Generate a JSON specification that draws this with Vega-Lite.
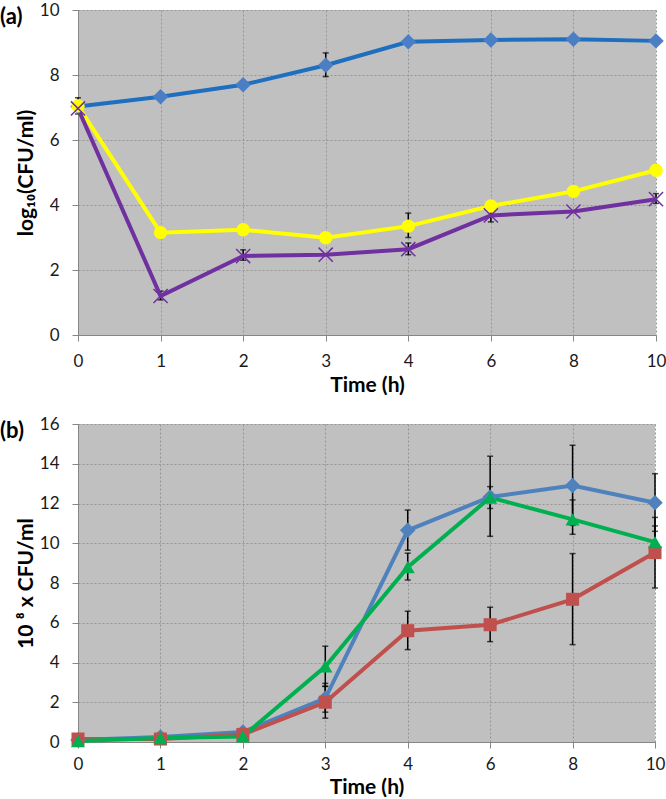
{
  "$schema": "https://vega.github.io/schema/vega-lite/v6.json",
  "padding": {"top": 1, "left": 0, "right": 0, "bottom": 0},
  "background": "white",
  "spacing": 20,
  "resolve": {"scale": {"color": "independent"}},
  "config": {
    "font": "Lato",
    "view": {"fill": "#C0C0C0", "stroke": null},
    "axis": {
      "labelFont": "Lato", "labelFontSize": 17, "labelColor": "#1a1a1a",
      "titleFont": "Lato", "titleFontSize": 21, "titleFontWeight": "bold", "titleColor": "#000000",
      "domainColor": "#868686", "tickColor": "#868686", "tickSize": 6,
      "gridColor": "#959595", "gridDash": [2, 2], "gridWidth": 1
    },
    "axisX": {"labelPadding": 12, "titlePadding": 5, "labelAngle": 0},
    "axisY": {"labelPadding": 13, "titlePadding": 3},
    "title": {"font": "Lato", "fontSize": 22, "fontWeight": "bold", "color": "#000000", "anchor": "start", "frame": "group", "baseline": "top", "offset": -28, "dx": -78}
  },
  "datasets": {
    "a": [
      {"t": 0, "s": "s1", "v": 7.03}, {"t": 1, "s": "s1", "v": 7.33}, {"t": 2, "s": "s1", "v": 7.70}, {"t": 3, "s": "s1", "v": 8.30},
      {"t": 4, "s": "s1", "v": 9.02}, {"t": 6, "s": "s1", "v": 9.08}, {"t": 8, "s": "s1", "v": 9.10}, {"t": 10, "s": "s1", "v": 9.05},
      {"t": 0, "s": "s2", "v": 7.05}, {"t": 1, "s": "s2", "v": 3.15}, {"t": 2, "s": "s2", "v": 3.24}, {"t": 3, "s": "s2", "v": 2.99},
      {"t": 4, "s": "s2", "v": 3.35}, {"t": 6, "s": "s2", "v": 3.97}, {"t": 8, "s": "s2", "v": 4.42}, {"t": 10, "s": "s2", "v": 5.07},
      {"t": 0, "s": "s3", "v": 6.97}, {"t": 1, "s": "s3", "v": 1.20}, {"t": 2, "s": "s3", "v": 2.43}, {"t": 3, "s": "s3", "v": 2.47},
      {"t": 4, "s": "s3", "v": 2.64}, {"t": 6, "s": "s3", "v": 3.68}, {"t": 8, "s": "s3", "v": 3.80}, {"t": 10, "s": "s3", "v": 4.18}
    ],
    "aerr": [
      {"t": 0, "s": "s2", "lo": 6.8, "hi": 7.3},
      {"t": 3, "s": "s1", "lo": 7.95, "hi": 8.68},
      {"t": 4, "s": "s2", "lo": 3.0, "hi": 3.75},
      {"t": 1, "s": "s3", "lo": 1.08, "hi": 1.35},
      {"t": 2, "s": "s3", "lo": 2.3, "hi": 2.62},
      {"t": 4, "s": "s3", "lo": 2.47, "hi": 2.83},
      {"t": 6, "s": "s3", "lo": 3.48, "hi": 3.88},
      {"t": 10, "s": "s3", "lo": 4.05, "hi": 4.35}
    ],
    "b": [
      {"t": 0, "s": "s1", "v": 0.1}, {"t": 1, "s": "s1", "v": 0.25}, {"t": 2, "s": "s1", "v": 0.5}, {"t": 3, "s": "s1", "v": 2.2},
      {"t": 4, "s": "s1", "v": 10.65}, {"t": 6, "s": "s1", "v": 12.33}, {"t": 8, "s": "s1", "v": 12.9}, {"t": 10, "s": "s1", "v": 12.04},
      {"t": 0, "s": "s2", "v": 0.15}, {"t": 1, "s": "s2", "v": 0.15}, {"t": 2, "s": "s2", "v": 0.38}, {"t": 3, "s": "s2", "v": 2.0},
      {"t": 4, "s": "s2", "v": 5.6}, {"t": 6, "s": "s2", "v": 5.9}, {"t": 8, "s": "s2", "v": 7.18}, {"t": 10, "s": "s2", "v": 9.53},
      {"t": 0, "s": "s3", "v": 0.05}, {"t": 1, "s": "s3", "v": 0.2}, {"t": 2, "s": "s3", "v": 0.28}, {"t": 3, "s": "s3", "v": 3.8},
      {"t": 4, "s": "s3", "v": 8.8}, {"t": 6, "s": "s3", "v": 12.3}, {"t": 8, "s": "s3", "v": 11.2}, {"t": 10, "s": "s3", "v": 10.06}
    ],
    "berr": [
      {"t": 3, "s": "s1", "lo": 1.5, "hi": 2.95},
      {"t": 4, "s": "s1", "lo": 9.65, "hi": 11.67},
      {"t": 6, "s": "s1", "lo": 10.35, "hi": 14.38},
      {"t": 8, "s": "s1", "lo": 10.9, "hi": 14.93},
      {"t": 10, "s": "s1", "lo": 10.6, "hi": 13.5},
      {"t": 3, "s": "s2", "lo": 1.2, "hi": 2.8},
      {"t": 4, "s": "s2", "lo": 4.65, "hi": 6.58},
      {"t": 6, "s": "s2", "lo": 5.05, "hi": 6.78},
      {"t": 8, "s": "s2", "lo": 4.9, "hi": 9.48},
      {"t": 10, "s": "s2", "lo": 7.75, "hi": 11.3},
      {"t": 3, "s": "s3", "lo": 2.8, "hi": 4.82},
      {"t": 4, "s": "s3", "lo": 8.15, "hi": 9.5},
      {"t": 6, "s": "s3", "lo": 11.75, "hi": 12.85},
      {"t": 8, "s": "s3", "lo": 10.45, "hi": 12.18},
      {"t": 10, "s": "s3", "lo": 9.27, "hi": 10.87}
    ]
  },
  "vconcat": [
    {
      "title": "(a)",
      "width": 578,
      "height": 325,
      "encoding": {
        "x": {"field": "t", "type": "ordinal", "scale": {"type": "point", "padding": 0}, "axis": {"title": "Time (h)", "grid": true}}
      },
      "layer": [
        {"data": {"name": "aerr"}, "mark": {"type": "rule", "color": "#000000", "strokeWidth": 1.5},
         "encoding": {"y": {"field": "lo", "type": "quantitative", "scale": {"domain": [0, 10]}, "axis": {"title": "log₁₀(CFU/ml)", "values": [0, 2, 4, 6, 8, 10], "grid": true}}, "y2": {"field": "hi"}}},
        {"data": {"name": "aerr"}, "mark": {"type": "tick", "color": "#000000", "thickness": 1.5, "size": 6},
         "encoding": {"y": {"field": "lo", "type": "quantitative", "scale": {"domain": [0, 10]}, "axis": {"title": "log₁₀(CFU/ml)", "values": [0, 2, 4, 6, 8, 10], "grid": true}}}},
        {"data": {"name": "aerr"}, "mark": {"type": "tick", "color": "#000000", "thickness": 1.5, "size": 6},
         "encoding": {"y": {"field": "hi", "type": "quantitative", "scale": {"domain": [0, 10]}, "axis": {"title": "log₁₀(CFU/ml)", "values": [0, 2, 4, 6, 8, 10], "grid": true}}}},
        {"data": {"name": "a"}, "mark": {"type": "line", "strokeWidth": 4},
         "encoding": {
           "y": {"field": "v", "type": "quantitative", "scale": {"domain": [0, 10]}, "axis": {"title": "log₁₀(CFU/ml)", "values": [0, 2, 4, 6, 8, 10], "grid": true}},
           "color": {"field": "s", "type": "nominal", "scale": {"domain": ["s1", "s2", "s3"], "range": ["#1F6FC0", "#FFFF00", "#7030A0"]}, "legend": null}
         }},
        {"data": {"name": "a"}, "transform": [{"filter": "datum.s === 's1'"}],
         "mark": {"type": "point", "shape": "diamond", "filled": true, "size": 240, "color": "#4A7EC5", "opacity": 1},
         "encoding": {"y": {"field": "v", "type": "quantitative", "scale": {"domain": [0, 10]}, "axis": {"title": "log₁₀(CFU/ml)", "values": [0, 2, 4, 6, 8, 10], "grid": true}}}},
        {"data": {"name": "a"}, "transform": [{"filter": "datum.s === 's2'"}],
         "mark": {"type": "point", "shape": "circle", "filled": true, "size": 180, "color": "#FFFF00", "opacity": 1},
         "encoding": {"y": {"field": "v", "type": "quantitative", "scale": {"domain": [0, 10]}, "axis": {"title": "log₁₀(CFU/ml)", "values": [0, 2, 4, 6, 8, 10], "grid": true}}}},
        {"data": {"name": "a"}, "transform": [{"filter": "datum.s === 's3'"}],
         "mark": {"type": "point", "shape": "M-1,-1L1,1M-1,1L1,-1", "filled": false, "size": 200, "stroke": "#7030A0", "strokeWidth": 1.5, "opacity": 1},
         "encoding": {"y": {"field": "v", "type": "quantitative", "scale": {"domain": [0, 10]}, "axis": {"title": "log₁₀(CFU/ml)", "values": [0, 2, 4, 6, 8, 10], "grid": true}}}}
      ]
    },
    {
      "title": "(b)",
      "width": 577,
      "height": 318,
      "encoding": {
        "x": {"field": "t", "type": "ordinal", "scale": {"type": "point", "padding": 0}, "axis": {"title": "Time (h)", "grid": true, "labelPadding": 8, "titlePadding": 4}}
      },
      "layer": [
        {"data": {"name": "berr"}, "mark": {"type": "rule", "color": "#000000", "strokeWidth": 1.5},
         "encoding": {"y": {"field": "lo", "type": "quantitative", "scale": {"domain": [0, 16]}, "axis": {"title": "10 ⁸ x CFU/ml", "values": [0, 2, 4, 6, 8, 10, 12, 14, 16], "grid": true, "labelOverlap": false}}, "y2": {"field": "hi"}}},
        {"data": {"name": "berr"}, "mark": {"type": "tick", "color": "#000000", "thickness": 1.5, "size": 6},
         "encoding": {"y": {"field": "lo", "type": "quantitative", "scale": {"domain": [0, 16]}, "axis": {"title": "10 ⁸ x CFU/ml", "values": [0, 2, 4, 6, 8, 10, 12, 14, 16], "grid": true, "labelOverlap": false}}}},
        {"data": {"name": "berr"}, "mark": {"type": "tick", "color": "#000000", "thickness": 1.5, "size": 6},
         "encoding": {"y": {"field": "hi", "type": "quantitative", "scale": {"domain": [0, 16]}, "axis": {"title": "10 ⁸ x CFU/ml", "values": [0, 2, 4, 6, 8, 10, 12, 14, 16], "grid": true, "labelOverlap": false}}}},
        {"data": {"name": "b"}, "mark": {"type": "line", "strokeWidth": 4},
         "encoding": {
           "y": {"field": "v", "type": "quantitative", "scale": {"domain": [0, 16]}, "axis": {"title": "10 ⁸ x CFU/ml", "values": [0, 2, 4, 6, 8, 10, 12, 14, 16], "grid": true, "labelOverlap": false}},
           "color": {"field": "s", "type": "nominal", "scale": {"domain": ["s1", "s2", "s3"], "range": ["#4F81BD", "#C0504D", "#00B050"]}, "legend": null}
         }},
        {"data": {"name": "b"}, "transform": [{"filter": "datum.s === 's1'"}],
         "mark": {"type": "point", "shape": "diamond", "filled": true, "size": 240, "color": "#4F81BD", "opacity": 1},
         "encoding": {"y": {"field": "v", "type": "quantitative", "scale": {"domain": [0, 16]}, "axis": {"title": "10 ⁸ x CFU/ml", "values": [0, 2, 4, 6, 8, 10, 12, 14, 16], "grid": true, "labelOverlap": false}}}},
        {"data": {"name": "b"}, "transform": [{"filter": "datum.s === 's2'"}],
         "mark": {"type": "point", "shape": "square", "filled": true, "size": 170, "color": "#C0504D", "opacity": 1},
         "encoding": {"y": {"field": "v", "type": "quantitative", "scale": {"domain": [0, 16]}, "axis": {"title": "10 ⁸ x CFU/ml", "values": [0, 2, 4, 6, 8, 10, 12, 14, 16], "grid": true, "labelOverlap": false}}}},
        {"data": {"name": "b"}, "transform": [{"filter": "datum.s === 's3'"}],
         "mark": {"type": "point", "shape": "triangle-up", "filled": true, "size": 200, "color": "#00B050", "opacity": 1},
         "encoding": {"y": {"field": "v", "type": "quantitative", "scale": {"domain": [0, 16]}, "axis": {"title": "10 ⁸ x CFU/ml", "values": [0, 2, 4, 6, 8, 10, 12, 14, 16], "grid": true, "labelOverlap": false}}}}
      ]
    }
  ]
}
